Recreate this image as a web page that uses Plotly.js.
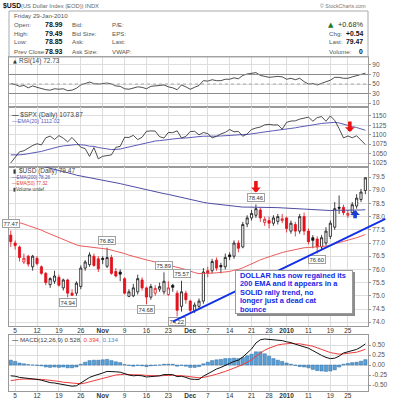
<!DOCTYPE html>
<html><head><meta charset="utf-8">
<script src="https://cdn.plot.ly/plotly-3.0.1.min.js"></script>
<style>html,body{margin:0;padding:0;background:#fff;}#chart{width:393px;height:400px;}</style>
</head><body><div id="chart"></div>
<script>
// ---------- DATA ----------
const dates = ['2009-10-02','2009-10-05','2009-10-06','2009-10-07','2009-10-08','2009-10-09','2009-10-12','2009-10-13','2009-10-14','2009-10-15',
'2009-10-16','2009-10-19','2009-10-20','2009-10-21','2009-10-22','2009-10-23','2009-10-26','2009-10-27','2009-10-28','2009-10-29',
'2009-10-30','2009-11-02','2009-11-03','2009-11-04','2009-11-05','2009-11-06','2009-11-09','2009-11-10','2009-11-11','2009-11-12',
'2009-11-13','2009-11-16','2009-11-17','2009-11-18','2009-11-19','2009-11-20','2009-11-23','2009-11-24','2009-11-25','2009-11-27',
'2009-11-30','2009-12-01','2009-12-02','2009-12-03','2009-12-04','2009-12-07','2009-12-08','2009-12-09','2009-12-10','2009-12-11',
'2009-12-14','2009-12-15','2009-12-16','2009-12-17','2009-12-18','2009-12-21','2009-12-22','2009-12-23','2009-12-24','2009-12-28',
'2009-12-29','2009-12-30','2009-12-31','2010-01-04','2010-01-05','2010-01-06','2010-01-07','2010-01-08','2010-01-11','2010-01-12',
'2010-01-13','2010-01-14','2010-01-15','2010-01-19','2010-01-20','2010-01-21','2010-01-22','2010-01-25','2010-01-26','2010-01-27',
'2010-01-28','2010-01-29'];

const usdOpen = [77.30,77.00,76.85,76.28,76.50,76.10,76.42,76.10,75.85,75.42,
75.55,75.70,75.30,75.60,75.10,75.10,75.35,76.05,76.18,76.50,
76.40,76.42,76.12,76.45,75.92,75.90,75.65,74.98,75.00,75.15,
75.60,75.30,74.95,75.10,75.25,75.15,75.05,75.40,75.10,74.60,
75.10,74.80,74.45,74.60,74.80,75.95,75.95,76.35,76.15,76.10,
76.55,76.50,77.00,76.85,77.72,77.95,78.05,78.25,77.78,77.85,
77.75,77.82,77.85,77.95,77.45,77.70,77.45,78.00,77.45,77.20,
77.15,76.85,77.00,77.25,77.60,78.35,78.35,78.05,78.15,78.40,
78.65,78.99];
const usdHigh = [77.47,77.10,76.90,76.60,76.55,76.55,76.50,76.15,75.90,75.70,
75.95,75.80,75.65,75.65,75.25,75.55,76.15,76.35,76.65,76.60,
76.50,76.50,76.82,76.55,76.05,76.00,75.70,75.25,75.45,75.80,
75.70,75.35,75.45,75.40,75.50,75.89,75.55,75.45,75.20,75.57,
75.20,74.85,74.75,74.90,76.05,76.10,76.40,76.45,76.25,76.60,
76.65,77.10,77.10,77.80,78.05,78.25,78.46,78.35,78.00,78.00,
78.05,78.10,78.10,78.00,77.85,77.80,78.10,78.15,77.55,77.30,
77.25,77.30,77.60,77.85,78.55,78.80,78.45,78.25,78.55,78.85,
79.05,79.49];
const usdLow = [76.85,76.75,76.30,76.20,76.10,75.95,76.15,75.80,75.40,75.30,
75.45,75.35,75.20,74.94,75.00,75.00,75.25,75.95,76.10,76.10,
75.90,76.20,76.05,75.80,75.70,75.55,75.05,74.95,74.95,75.05,
75.20,74.68,74.85,75.00,75.15,75.05,75.00,75.15,74.22,74.40,
74.70,74.35,74.35,74.50,74.70,75.70,75.85,75.95,75.85,76.00,
76.35,76.40,76.65,76.80,77.60,77.85,77.95,77.80,77.65,77.55,
77.65,77.70,77.75,77.40,77.35,77.25,77.35,77.30,76.95,76.80,
76.60,76.75,76.90,77.15,77.50,78.10,78.05,77.95,78.05,78.30,
78.55,78.85];
const usdClose = [77.05,76.90,76.45,76.42,76.20,76.50,76.22,75.85,75.50,75.65,
75.75,75.40,75.60,75.10,75.02,75.48,76.05,76.28,76.55,76.15,
76.02,76.38,76.45,75.85,75.75,75.82,75.10,75.15,75.30,75.65,
75.30,74.95,75.35,75.28,75.35,75.55,75.30,75.32,74.45,75.15,
74.85,74.45,74.65,74.80,75.90,75.85,76.30,76.05,76.10,76.45,
76.48,77.00,76.80,77.70,77.95,78.12,78.30,77.95,77.90,77.75,
77.95,78.00,77.92,77.55,77.75,77.45,78.00,77.45,77.05,77.10,
76.85,77.20,77.45,77.75,78.30,78.32,78.15,78.12,78.45,78.70,
78.93,79.47];
const usdEma200 = [80.18,80.15,80.11,80.07,80.03,80.00,79.96,79.92,79.88,79.83,
79.79,79.75,79.71,79.66,79.62,79.57,79.54,79.51,79.48,79.45,
79.41,79.38,79.35,79.32,79.28,79.25,79.21,79.17,79.13,79.09,
79.06,79.01,78.98,78.94,78.91,78.87,78.84,78.80,78.76,78.72,
78.68,78.64,78.60,78.56,78.54,78.51,78.49,78.46,78.44,78.42,
78.40,78.39,78.37,78.36,78.36,78.36,78.36,78.35,78.35,78.34,
78.34,78.34,78.33,78.32,78.32,78.31,78.31,78.30,78.28,78.27,
78.26,78.25,78.24,78.23,78.24,78.24,78.24,78.23,78.24,78.24,
78.25,78.26];
const usdEma50 = [77.86,77.82,77.77,77.72,77.66,77.61,77.56,77.49,77.41,77.34,
77.28,77.21,77.15,77.07,76.99,76.93,76.89,76.87,76.86,76.83,
76.80,76.78,76.77,76.73,76.69,76.66,76.60,76.54,76.49,76.46,
76.41,76.36,76.32,76.28,76.24,76.21,76.18,76.14,76.08,76.04,
75.99,75.93,75.88,75.84,75.84,75.84,75.86,75.87,75.88,75.90,
75.92,75.97,76.00,76.06,76.14,76.22,76.30,76.36,76.42,76.48,
76.53,76.59,76.64,76.68,76.72,76.75,76.80,76.82,76.83,76.84,
76.84,76.86,76.88,76.91,76.97,77.02,77.06,77.10,77.15,77.20,
77.26,77.32];

const spxClose = [1025.21,1040.46,1054.72,1057.58,1065.48,1071.49,1076.19,1073.19,1092.02,1096.56,
1087.68,1097.91,1091.06,1081.40,1092.91,1079.60,1066.95,1063.41,1042.63,1066.11,
1036.19,1042.88,1045.41,1046.50,1066.63,1069.30,1093.08,1093.01,1098.51,1087.24,
1093.48,1109.30,1110.32,1109.80,1094.90,1091.38,1106.24,1105.65,1110.63,1091.49,
1095.63,1108.86,1109.24,1099.92,1105.98,1103.25,1091.94,1095.95,1102.35,1106.41,
1114.11,1107.93,1109.18,1096.08,1102.47,1114.05,1118.02,1120.59,1126.48,1127.78,
1126.20,1126.42,1115.10,1132.99,1136.52,1137.14,1141.69,1144.98,1146.98,1136.22,
1145.68,1148.46,1136.03,1150.23,1138.04,1116.48,1091.76,1096.78,1092.17,1097.50,
1084.53,1073.87];
const spxEma20 = [1046.5,1045.9,1046.8,1047.8,1049.5,1051.6,1053.9,1055.8,1059.2,1062.8,
1065.1,1068.3,1070.4,1071.5,1073.5,1074.1,1073.4,1072.5,1069.6,1069.3,
1066.2,1064.0,1062.2,1060.7,1061.3,1062.1,1065.0,1067.7,1070.6,1072.2,
1074.2,1077.6,1080.7,1083.5,1084.5,1085.2,1087.2,1088.9,1091.0,1091.1,
1091.5,1093.2,1094.7,1095.2,1096.2,1096.9,1096.4,1096.4,1096.9,1097.9,
1099.4,1100.2,1101.1,1100.6,1100.8,1102.1,1103.6,1105.2,1107.2,1109.2,
1110.8,1112.3,1112.6,1114.5,1116.6,1118.6,1120.8,1123.1,1125.3,1126.4,
1128.2,1130.2,1130.7,1132.6,1133.1,1131.5,1127.7,1124.8,1121.7,1119.4,
1116.0,1112.0];

const rsi14 = [51,49,45,47,42,46,43,40,38,37,
40,39,40,36,37,41,48,51,54,51,
50,51,52,50,46,45,40,39,41,44,
43,40,45,46,48,48,44,42,38,48,
44,39,43,47,57,56,59,57,57,60,
60,63,61,68,71,73,74,68,66,64,
65,66,65,60,62,59,62,55,50,51,
48,51,55,58,64,64,62,62,65,68,
70,72.73];

const macdLine = [-0.27,-0.28,-0.31,-0.32,-0.34,-0.35,-0.36,-0.38,-0.42,-0.44,
-0.45,-0.47,-0.48,-0.51,-0.53,-0.52,-0.45,-0.38,-0.31,-0.27,
-0.24,-0.20,-0.16,-0.16,-0.17,-0.18,-0.22,-0.25,-0.27,-0.26,
-0.27,-0.30,-0.29,-0.28,-0.27,-0.24,-0.24,-0.24,-0.29,-0.28,
-0.31,-0.35,-0.36,-0.36,-0.28,-0.22,-0.15,-0.10,-0.06,0.00,
0.04,0.09,0.12,0.20,0.30,0.40,0.55,0.63,0.65,0.64,
0.63,0.62,0.61,0.58,0.56,0.52,0.49,0.46,0.42,0.36,
0.29,0.24,0.19,0.16,0.17,0.22,0.30,0.33,0.36,0.39,
0.45,0.528];
const macdSignal = [-0.39,-0.37,-0.36,-0.35,-0.35,-0.35,-0.35,-0.36,-0.37,-0.38,
-0.40,-0.41,-0.43,-0.44,-0.46,-0.47,-0.47,-0.45,-0.42,-0.39,
-0.36,-0.33,-0.30,-0.27,-0.25,-0.24,-0.23,-0.24,-0.24,-0.25,
-0.25,-0.26,-0.27,-0.27,-0.27,-0.26,-0.26,-0.26,-0.26,-0.27,
-0.28,-0.29,-0.30,-0.32,-0.31,-0.29,-0.26,-0.23,-0.20,-0.16,
-0.12,-0.08,-0.04,0.01,0.07,0.13,0.22,0.30,0.37,0.42,
0.47,0.50,0.52,0.53,0.54,0.53,0.53,0.51,0.49,0.47,
0.43,0.39,0.35,0.31,0.29,0.27,0.28,0.29,0.30,0.32,
0.355,0.394];
const macdHist = [0.12,0.09,0.05,0.03,0.01,0.00,-0.01,-0.02,-0.05,-0.06,
-0.05,-0.06,-0.05,-0.07,-0.07,-0.05,0.02,0.07,0.11,0.12,
0.12,0.13,0.14,0.11,0.08,0.06,0.01,-0.01,-0.03,-0.01,
-0.02,-0.04,-0.02,-0.01,0.00,0.02,0.02,0.02,-0.03,-0.01,
-0.03,-0.06,-0.06,-0.04,0.03,0.07,0.11,0.13,0.14,0.16,
0.16,0.17,0.16,0.19,0.23,0.27,0.33,0.33,0.28,0.22,
0.16,0.12,0.09,0.05,0.02,-0.01,-0.04,-0.05,-0.07,-0.11,
-0.14,-0.15,-0.16,-0.15,-0.12,-0.05,0.02,0.04,0.06,0.07,
0.095,0.134];

const tickDates = ['2009-10-05','2009-10-12','2009-10-19','2009-10-26','2009-11-02','2009-11-09','2009-11-16','2009-11-23','2009-12-01','2009-12-07','2009-12-14','2009-12-21','2009-12-28','2010-01-04','2010-01-11','2010-01-19','2010-01-25'];
const tickLabels = ['5','12','19','26','<b>Nov</b>','9','16','23','<b>Dec</b>','7','14','21','28','<b>2010</b>','11','19','25'];

const rsiTicks = [10,30,50,70,90];
const spxTicks = [1025,1050,1075,1100,1125,1150];
const usdTicks = [74.0,74.5,75.0,75.5,76.0,76.5,77.0,77.5,78.0,78.5,79.0,79.5];
const macdTicks = [-0.5,-0.25,0,0.25,0.5];

const highLabelIdx = [0,22,35,39,56];
const lowLabelIdx = [13,31,38,70];

const noteLines = ['DOLLAR has now regained its','200 EMA and it appears in a','SOLID rally trend, no','longer just a dead cat','bounce'];

// ---------- LAYOUT HELPERS ----------
const W = 393, H = 400;
const F = 'Liberation Sans, Arial, Helvetica, sans-serif';
const px = v => v / W, py = v => 1 - v / H;
const X0 = 9, X1 = 368;
const xdom = [px(X0), px(X1)];

function xax(anchor, showLabels) {
  return {domain: xdom, anchor: anchor, type: 'category', categoryorder: 'array', categoryarray: dates,
    range: [-0.4, 81.6], tickmode: 'array', tickvals: tickDates, ticktext: tickLabels, showticklabels: showLabels,
    ticks: '', ticklabelstandoff: -2, tickfont: {family: F, size: 6.5, color: '#333'}, showgrid: true, gridcolor: '#dddddd', gridwidth: 1,
    zeroline: false, showline: true, linecolor: '#999', linewidth: 1, mirror: true, fixedrange: true,
    rangeslider: {visible: false}};
}
function yax(anchor, top, bottom, range, vals, texts) {
  return {domain: [py(bottom), py(top)], anchor: anchor, range: range, side: 'right', tickmode: 'array',
    tickvals: vals, ticktext: texts, ticks: 'outside', ticklen: 2, tickcolor: '#999',
    tickfont: {family: F, size: 6.5, color: '#555'}, showgrid: true, gridcolor: '#dddddd', zeroline: false,
    showline: true, linecolor: '#999', linewidth: 1, mirror: true, fixedrange: true};
}

// ---------- TRACES ----------
const traces = [];
traces.push({type: 'scatter', mode: 'lines', x: dates, y: rsi14, xaxis: 'x', yaxis: 'y', line: {color: '#222', width: 0.8}});
traces.push({type: 'scatter', mode: 'lines', x: dates, y: spxEma20, xaxis: 'x2', yaxis: 'y2', line: {color: '#5b5bb8', width: 1}});
traces.push({type: 'scatter', mode: 'lines', x: dates, y: spxClose, xaxis: 'x2', yaxis: 'y2', line: {color: '#222', width: 0.8}});
traces.push({type: 'scatter', mode: 'lines', x: dates, y: usdEma200, xaxis: 'x3', yaxis: 'y3', line: {color: '#4d4da6', width: 1}});
traces.push({type: 'scatter', mode: 'lines', x: dates, y: usdEma50, xaxis: 'x3', yaxis: 'y3', line: {color: '#ec5a5a', width: 1}});

const candA = {x: [], open: [], high: [], low: [], close: []};
const candB = {x: [], open: [], high: [], low: [], close: []};
for (let i = 0; i < dates.length; i++) {
  const up = usdClose[i] > usdOpen[i];
  const upPrev = i > 0 ? usdClose[i] > usdClose[i - 1] : false;
  const t = (up === upPrev) ? candA : candB;
  t.x.push(dates[i]); t.open.push(usdOpen[i]); t.high.push(usdHigh[i]); t.low.push(usdLow[i]); t.close.push(usdClose[i]);
}
const RED = '#e3101a';
traces.push(Object.assign({type: 'candlestick', xaxis: 'x3', yaxis: 'y3', whiskerwidth: 0, hoverinfo: 'skip',
  increasing: {line: {color: '#111', width: 0.8}, fillcolor: '#ffffff'},
  decreasing: {line: {color: RED, width: 0.8}, fillcolor: RED}}, candA));
traces.push(Object.assign({type: 'candlestick', xaxis: 'x3', yaxis: 'y3', whiskerwidth: 0, hoverinfo: 'skip',
  increasing: {line: {color: RED, width: 0.8}, fillcolor: '#ffffff'},
  decreasing: {line: {color: '#111', width: 0.8}, fillcolor: '#111'}}, candB));

traces.push({type: 'bar', x: dates, y: macdHist, xaxis: 'x4', yaxis: 'y4', marker: {color: '#5a9fd4', line: {color: '#2e6da4', width: 0.5}}});
traces.push({type: 'scatter', mode: 'lines', x: dates, y: macdSignal, xaxis: 'x4', yaxis: 'y4', line: {color: '#f03c3c', width: 1}});
traces.push({type: 'scatter', mode: 'lines', x: dates, y: macdLine, xaxis: 'x4', yaxis: 'y4', line: {color: '#111', width: 1}});

// ---------- ANNOTATIONS ----------
const ann = [];
function txt(x, y, text, o) {
  ann.push(Object.assign({xref: 'paper', yref: 'paper', x: px(x), y: py(y), text: text, showarrow: false,
    xanchor: 'left', yanchor: 'middle', font: {family: F, size: 6.2, color: '#555'}}, o || {}));
}

// header
txt(1, 6, '<b>$USD</b>', {font: {family: F, size: 6.8, color: '#111'}});
txt(19, 6, '(US Dollar Index (EOD)) INDX', {font: {family: F, size: 5.8, color: '#666'}});
txt(368, 5.5, '© StockCharts.com', {xanchor: 'right', font: {family: F, size: 5.3, color: '#777'}});
txt(12, 15.7, 'Friday 29-Jan-2010');
const rows = [['Open:', '78.99', 'Bid:', 'P/E:'], ['High:', '79.49', 'Bid Size:', 'EPS:'], ['Low:', '78.85', 'Ask:', 'Last:'], ['Prev Close:', '78.93', 'Ask Size:', 'VWAP:']];
const rowY = [24.5, 33.3, 42, 51.7];
rows.forEach((r, k) => {
  txt(12, rowY[k], r[0]);
  txt(43, rowY[k], '<b>' + r[1] + '</b>', {font: {family: F, size: 7, color: '#111'}});
  txt(70, rowY[k], r[2]);
  txt(110, rowY[k], r[3]);
});
txt(326, 24.8, '▲', {font: {family: 'DejaVu Sans', size: 7, color: '#1e7a1e'}});
txt(365, 24.8, '+0.68%', {xanchor: 'right', font: {family: F, size: 7.3, color: '#1c3a1c'}});
txt(327, 33.3, 'Chg:');
txt(365, 33.3, '<b>+0.54</b>', {xanchor: 'right', font: {family: F, size: 6.8, color: '#111'}});
txt(327, 42, 'Last:');
txt(365, 42, '<b>79.47</b>', {xanchor: 'right', font: {family: F, size: 6.8, color: '#111'}});
txt(327, 51.7, 'Volume:');
txt(365, 51.7, '<b>0</b>', {xanchor: 'right', font: {family: F, size: 6.8, color: '#111'}});

// panel legends
txt(11, 60.5, '▲', {font: {family: 'DejaVu Sans', size: 5, color: '#333'}});
txt(17, 60.5, 'RSI(14) 72.73', {font: {family: F, size: 6.5, color: '#444'}});
txt(10, 115, '<b>—</b> $SPX (Daily) 1073.87', {font: {family: F, size: 6.5, color: '#444'}});
txt(10, 121.3, '—EMA(20) 1112.02', {font: {family: F, size: 5.5, color: '#5b5bb8'}});
txt(11, 170.5, '▮', {font: {family: 'DejaVu Sans', size: 5.5, color: '#333'}});
txt(17, 170.5, '$USD (Daily) 79.47', {font: {family: F, size: 6.5, color: '#444'}});
txt(10, 177, '—EMA(200) 78.26', {font: {family: F, size: 4.6, color: '#4d4da6'}});
txt(10, 183.3, '—EMA(50) 77.32', {font: {family: F, size: 4.6, color: '#e04040'}});
txt(11, 189.5, '▮Volume undef', {font: {family: F, size: 4.6, color: '#444'}});
txt(10, 339.8, '<b>—</b> MACD(12,26,9) 0.528, <span style="color:#f03c3c">0.394</span>, <span style="color:#3f8fcf">0.134</span>', {font: {family: F, size: 6.2, color: '#444'}});

// price labels on swing highs / lows
const lab = {xref: 'x3', yref: 'y3', showarrow: false, bgcolor: '#ffffff', bordercolor: '#a0a0a0', borderwidth: 1, borderpad: 0.5,
  yanchor: 'middle', font: {family: F, size: 5.8, color: '#333'}};
highLabelIdx.forEach(i => ann.push(Object.assign({}, lab, {x: dates[i], y: usdHigh[i], yshift: 7, text: usdHigh[i].toFixed(2)})));
lowLabelIdx.forEach(i => ann.push(Object.assign({}, lab, {x: dates[i], y: usdLow[i], yshift: -5.5, text: usdLow[i].toFixed(2)})));

// arrows
ann.push({xref: 'x3', yref: 'y3', x: dates[56], y: usdHigh[56], text: '', showarrow: true, ax: 0, ay: -25, standoff: 12,
  arrowhead: 1, arrowsize: 0.45, arrowwidth: 3.6, arrowcolor: '#ee1111'});
ann.push({xref: 'x2', yref: 'y2', x: dates[77], y: spxClose[77], xshift: 2, text: '', showarrow: true, ax: 0, ay: -16, standoff: 4,
  arrowhead: 1, arrowsize: 0.45, arrowwidth: 3.6, arrowcolor: '#ee1111'});
ann.push({xref: 'x3', yref: 'y3', x: dates[79], y: usdLow[79], xshift: -1.5, text: '', showarrow: true, ax: 0, ay: 11, standoff: 1.5,
  arrowhead: 1, arrowsize: 0.45, arrowwidth: 3.6, arrowcolor: '#1a3fd6'});
// trend line (support through the Nov and Jan lows, extended past the last bar)
ann.push({xref: 'x3', yref: 'y3', x: dates[37], y: 74.02, axref: 'x3', ayref: 'y3', ax: 85.9, ay: 77.94, text: '',
  showarrow: true, arrowhead: 0, arrowwidth: 1.8, arrowcolor: '#1030e8', standoff: 0, startstandoff: 0});

// note box (drawn after the trend line so it covers it), shadow first
ann.push({xref: 'paper', yref: 'paper', x: px(237), y: py(271.5), xanchor: 'left', yanchor: 'top', text: ' ', showarrow: false,
  width: 116, height: 42, bgcolor: '#8c8c8c', borderwidth: 1, bordercolor: '#8c8c8c', borderpad: 0});
ann.push({xref: 'paper', yref: 'paper', x: px(235), y: py(269.5), xanchor: 'left', yanchor: 'top', text: ' ', showarrow: false,
  width: 116, height: 42, bgcolor: '#ffffff', borderwidth: 1, bordercolor: '#9a9a9a', borderpad: 0});
const noteY = [275, 283.6, 292.2, 300.8, 309.4];
noteLines.forEach((s, k) => txt(237.5, noteY[k], '<b>' + s + '</b>', {font: {family: F, size: 7.4, color: '#1428e6'}}));

// ---------- SHAPES ----------
const shapes = [
  {type: 'rect', xref: 'paper', yref: 'paper', x0: px(9), x1: px(368), y0: py(57), y1: py(11), line: {color: '#aaa', width: 1}},
  {type: 'line', xref: 'x domain', yref: 'y', x0: 0, x1: 1, y0: 70, y1: 70, line: {color: '#8a8a8a', width: 1}},
  {type: 'line', xref: 'x domain', yref: 'y', x0: 0, x1: 1, y0: 30, y1: 30, line: {color: '#8a8a8a', width: 1}},
  {type: 'line', xref: 'x domain', yref: 'y', x0: 0, x1: 1, y0: 50, y1: 50, line: {color: '#aaa', width: 1, dash: 'dot'}}
];

const layout = {
  width: W, height: H, margin: {l: 0, r: 0, t: 0, b: 0, pad: 0},
  paper_bgcolor: '#fff', plot_bgcolor: '#fff', showlegend: false, hovermode: false, dragmode: false,
  font: {family: F, size: 6.5, color: '#444'}, bargap: 0.25,
  xaxis: xax('y', false), xaxis2: xax('y2', false), xaxis3: xax('y3', true), xaxis4: xax('y4', true),
  yaxis: yax('x', 57, 107, [1.6, 106.8], rsiTicks, rsiTicks.map(String)),
  yaxis2: yax('x2', 107, 167, [1014.4, 1173.9], spxTicks, spxTicks.map(String)),
  yaxis3: yax('x3', 167, 326, [73.856, 79.879], usdTicks, usdTicks.map(v => v.toFixed(1))),
  yaxis4: yax('x4', 335, 391, [-0.65, 0.75], macdTicks, macdTicks.map(v => v.toFixed(2))),
  annotations: ann, shapes: shapes
};

Plotly.newPlot('chart', traces, layout, {staticPlot: true, displayModeBar: false});
</script></body></html>
